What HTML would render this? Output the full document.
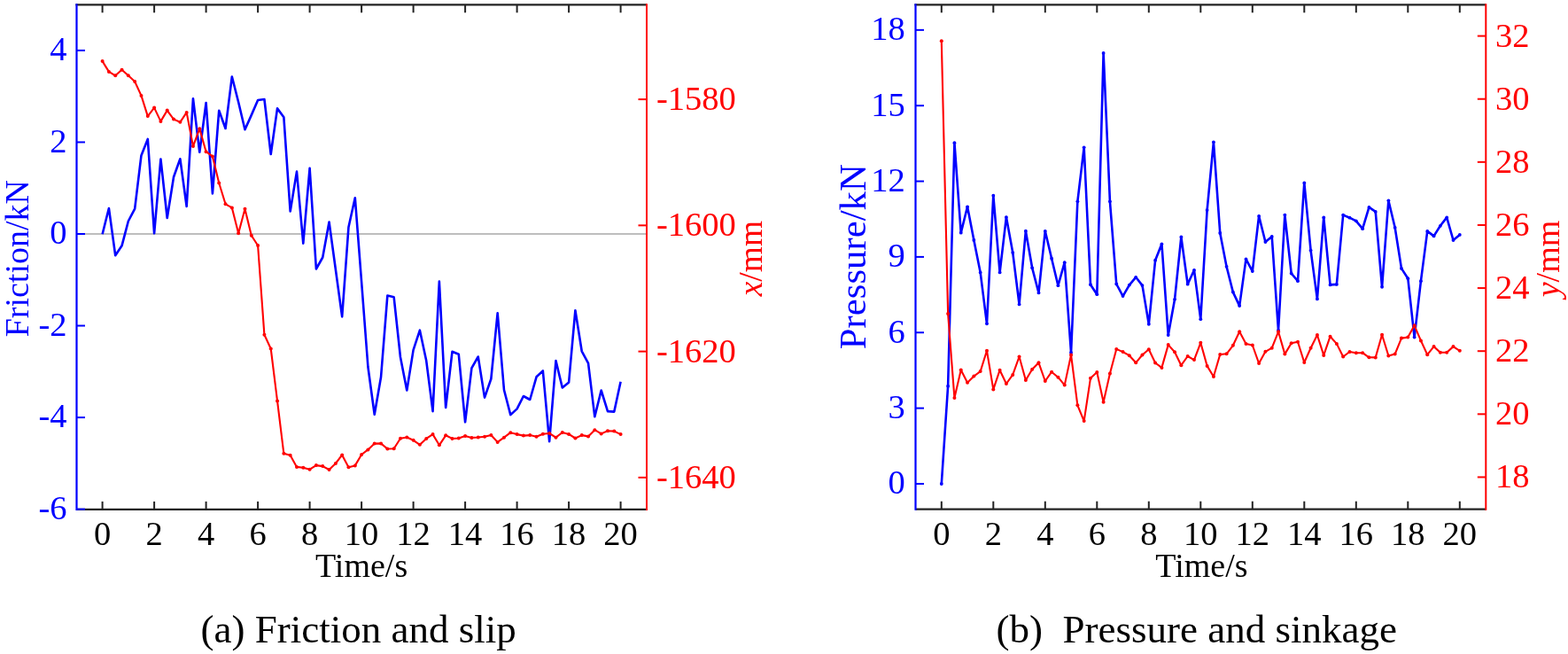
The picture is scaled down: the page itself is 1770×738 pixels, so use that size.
<!DOCTYPE html>
<html><head><meta charset="utf-8"><title>Friction and slip / Pressure and sinkage</title>
<style>html,body{margin:0;padding:0;background:#fff;width:1770px;height:738px;overflow:hidden}svg{display:block;filter:blur(0.35px)}</style>
</head><body>
<svg width="1770" height="738" viewBox="0 0 1770 738" font-family='"Liberation Serif", "Times New Roman", serif'>
<rect width="1770" height="738" fill="#fff"/>
<line x1="86.5" y1="264" x2="730" y2="264" stroke="#a8a8a8" stroke-width="1.3"/>
<polyline points="115.6,264.2 122.91,235 130.22,288.3 137.54,277.3 144.85,249.5 152.16,235.6 159.47,175.4 166.79,156.9 174.1,263.3 181.41,179.5 188.72,246 196.04,199.8 203.35,179.3 210.66,233 217.97,111.2 225.29,171.8 232.6,116 239.91,218.4 247.22,124.8 254.54,145 261.85,86.5 269.16,115.3 276.48,146.2 283.79,129.9 291.1,113 298.41,112 305.73,174 313.04,122.4 320.35,132.2 327.66,238.5 334.98,193.6 342.29,274.6 349.6,189.8 356.91,303.5 364.23,290.5 371.54,250.5 378.85,304 386.16,357.4 393.48,256.2 400.79,223.2 408.1,318 415.41,414 422.73,467.8 430.04,425.5 437.35,333.6 444.66,335.3 451.98,403 459.29,440.5 466.6,394.9 473.91,372.7 481.23,407.1 488.54,464.1 495.85,317.6 503.16,460 510.48,396.8 517.79,399.8 525.1,476.3 532.41,415.3 539.73,402.5 547.04,448.6 554.35,427.5 561.66,353.3 568.98,440 576.29,468.1 583.6,461.4 590.91,447 598.23,451 605.54,425.3 612.85,418.5 620.16,498.2 627.48,407.1 634.79,437.5 642.1,431.5 649.41,350.2 656.73,396.3 664.04,409.8 671.35,470.3 678.66,440.5 685.98,464.1 693.29,464.6 700.6,430.7" fill="none" stroke="#0000ff" stroke-width="2.6" stroke-linejoin="round"/>
<polyline points="115.6,69.1 122.91,80.9 130.22,85.3 137.54,78.8 144.85,85.3 152.16,92 159.47,107.9 166.79,131.1 174.1,121.6 181.41,136.9 188.72,124.6 196.04,134.6 203.35,137.8 210.66,126.9 217.97,165.1 225.29,145.2 232.6,171.2 239.91,176.4 247.22,206.5 254.54,230.3 261.85,234.4 269.16,263.3 276.48,235.8 283.79,265.8 291.1,277 298.41,377.8 305.73,393.5 313.04,452.4 320.35,511.8 327.66,513.8 334.98,526.9 342.29,527.7 349.6,529.7 356.91,525.1 364.23,526.1 371.54,530 378.85,523 386.16,513.4 393.48,527.2 400.79,525.4 408.1,513 415.41,507.4 422.73,500.6 430.04,500.4 437.35,506.5 444.66,506.2 451.98,494.7 459.29,493.5 466.6,496.8 473.91,501.8 481.23,494.9 488.54,490.1 495.85,502.3 503.16,491.3 510.48,494.9 517.79,494.5 525.1,492 532.41,493.9 539.73,493.5 547.04,492.8 554.35,491 561.66,498.9 568.98,493.7 576.29,488.2 583.6,490.1 590.91,491.6 598.23,491.1 605.54,492.8 612.85,489.7 620.16,489 627.48,493.7 634.79,488 642.1,489.9 649.41,494.5 656.73,491.1 664.04,492.4 671.35,485.2 678.66,489.4 685.98,486.3 693.29,486.6 700.6,490.1" fill="none" stroke="#ff0000" stroke-width="2.1" stroke-linejoin="round"/>
<g fill="#ff0000"><circle cx="115.6" cy="69.1" r="2"/><circle cx="122.91" cy="80.9" r="2"/><circle cx="130.22" cy="85.3" r="2"/><circle cx="137.54" cy="78.8" r="2"/><circle cx="144.85" cy="85.3" r="2"/><circle cx="152.16" cy="92" r="2"/><circle cx="159.47" cy="107.9" r="2"/><circle cx="166.79" cy="131.1" r="2"/><circle cx="174.1" cy="121.6" r="2"/><circle cx="181.41" cy="136.9" r="2"/><circle cx="188.72" cy="124.6" r="2"/><circle cx="196.04" cy="134.6" r="2"/><circle cx="203.35" cy="137.8" r="2"/><circle cx="210.66" cy="126.9" r="2"/><circle cx="217.97" cy="165.1" r="2"/><circle cx="225.29" cy="145.2" r="2"/><circle cx="232.6" cy="171.2" r="2"/><circle cx="239.91" cy="176.4" r="2"/><circle cx="247.22" cy="206.5" r="2"/><circle cx="254.54" cy="230.3" r="2"/><circle cx="261.85" cy="234.4" r="2"/><circle cx="269.16" cy="263.3" r="2"/><circle cx="276.48" cy="235.8" r="2"/><circle cx="283.79" cy="265.8" r="2"/><circle cx="291.1" cy="277" r="2"/><circle cx="298.41" cy="377.8" r="2"/><circle cx="305.73" cy="393.5" r="2"/><circle cx="313.04" cy="452.4" r="2"/><circle cx="320.35" cy="511.8" r="2"/><circle cx="327.66" cy="513.8" r="2"/><circle cx="334.98" cy="526.9" r="2"/><circle cx="342.29" cy="527.7" r="2"/><circle cx="349.6" cy="529.7" r="2"/><circle cx="356.91" cy="525.1" r="2"/><circle cx="364.23" cy="526.1" r="2"/><circle cx="371.54" cy="530" r="2"/><circle cx="378.85" cy="523" r="2"/><circle cx="386.16" cy="513.4" r="2"/><circle cx="393.48" cy="527.2" r="2"/><circle cx="400.79" cy="525.4" r="2"/><circle cx="408.1" cy="513" r="2"/><circle cx="415.41" cy="507.4" r="2"/><circle cx="422.73" cy="500.6" r="2"/><circle cx="430.04" cy="500.4" r="2"/><circle cx="437.35" cy="506.5" r="2"/><circle cx="444.66" cy="506.2" r="2"/><circle cx="451.98" cy="494.7" r="2"/><circle cx="459.29" cy="493.5" r="2"/><circle cx="466.6" cy="496.8" r="2"/><circle cx="473.91" cy="501.8" r="2"/><circle cx="481.23" cy="494.9" r="2"/><circle cx="488.54" cy="490.1" r="2"/><circle cx="495.85" cy="502.3" r="2"/><circle cx="503.16" cy="491.3" r="2"/><circle cx="510.48" cy="494.9" r="2"/><circle cx="517.79" cy="494.5" r="2"/><circle cx="525.1" cy="492" r="2"/><circle cx="532.41" cy="493.9" r="2"/><circle cx="539.73" cy="493.5" r="2"/><circle cx="547.04" cy="492.8" r="2"/><circle cx="554.35" cy="491" r="2"/><circle cx="561.66" cy="498.9" r="2"/><circle cx="568.98" cy="493.7" r="2"/><circle cx="576.29" cy="488.2" r="2"/><circle cx="583.6" cy="490.1" r="2"/><circle cx="590.91" cy="491.6" r="2"/><circle cx="598.23" cy="491.1" r="2"/><circle cx="605.54" cy="492.8" r="2"/><circle cx="612.85" cy="489.7" r="2"/><circle cx="620.16" cy="489" r="2"/><circle cx="627.48" cy="493.7" r="2"/><circle cx="634.79" cy="488" r="2"/><circle cx="642.1" cy="489.9" r="2"/><circle cx="649.41" cy="494.5" r="2"/><circle cx="656.73" cy="491.1" r="2"/><circle cx="664.04" cy="492.4" r="2"/><circle cx="671.35" cy="485.2" r="2"/><circle cx="678.66" cy="489.4" r="2"/><circle cx="685.98" cy="486.3" r="2"/><circle cx="693.29" cy="486.6" r="2"/><circle cx="700.6" cy="490.1" r="2"/></g>
<line x1="85.4" y1="5.3" x2="730" y2="5.3" stroke="#222" stroke-width="2.2"/>
<line x1="86.5" y1="574.9" x2="730" y2="574.9" stroke="#222" stroke-width="2.2"/>
<line x1="86.5" y1="4.2" x2="86.5" y2="576" stroke="#0000ff" stroke-width="2.2"/>
<line x1="730" y1="4.2" x2="730" y2="576" stroke="#ff0000" stroke-width="2"/>
<line x1="115.6" y1="5.3" x2="115.6" y2="14.3" stroke="#222" stroke-width="2"/>
<line x1="115.6" y1="574.9" x2="115.6" y2="565.9" stroke="#222" stroke-width="2"/>
<text x="115.6" y="615.2" text-anchor="middle" fill="#000" font-size="38.5">0</text>
<line x1="174.1" y1="5.3" x2="174.1" y2="14.3" stroke="#222" stroke-width="2"/>
<line x1="174.1" y1="574.9" x2="174.1" y2="565.9" stroke="#222" stroke-width="2"/>
<text x="174.1" y="615.2" text-anchor="middle" fill="#000" font-size="38.5">2</text>
<line x1="232.6" y1="5.3" x2="232.6" y2="14.3" stroke="#222" stroke-width="2"/>
<line x1="232.6" y1="574.9" x2="232.6" y2="565.9" stroke="#222" stroke-width="2"/>
<text x="232.6" y="615.2" text-anchor="middle" fill="#000" font-size="38.5">4</text>
<line x1="291.1" y1="5.3" x2="291.1" y2="14.3" stroke="#222" stroke-width="2"/>
<line x1="291.1" y1="574.9" x2="291.1" y2="565.9" stroke="#222" stroke-width="2"/>
<text x="291.1" y="615.2" text-anchor="middle" fill="#000" font-size="38.5">6</text>
<line x1="349.6" y1="5.3" x2="349.6" y2="14.3" stroke="#222" stroke-width="2"/>
<line x1="349.6" y1="574.9" x2="349.6" y2="565.9" stroke="#222" stroke-width="2"/>
<text x="349.6" y="615.2" text-anchor="middle" fill="#000" font-size="38.5">8</text>
<line x1="408.1" y1="5.3" x2="408.1" y2="14.3" stroke="#222" stroke-width="2"/>
<line x1="408.1" y1="574.9" x2="408.1" y2="565.9" stroke="#222" stroke-width="2"/>
<text x="408.1" y="615.2" text-anchor="middle" fill="#000" font-size="38.5">10</text>
<line x1="466.6" y1="5.3" x2="466.6" y2="14.3" stroke="#222" stroke-width="2"/>
<line x1="466.6" y1="574.9" x2="466.6" y2="565.9" stroke="#222" stroke-width="2"/>
<text x="466.6" y="615.2" text-anchor="middle" fill="#000" font-size="38.5">12</text>
<line x1="525.1" y1="5.3" x2="525.1" y2="14.3" stroke="#222" stroke-width="2"/>
<line x1="525.1" y1="574.9" x2="525.1" y2="565.9" stroke="#222" stroke-width="2"/>
<text x="525.1" y="615.2" text-anchor="middle" fill="#000" font-size="38.5">14</text>
<line x1="583.6" y1="5.3" x2="583.6" y2="14.3" stroke="#222" stroke-width="2"/>
<line x1="583.6" y1="574.9" x2="583.6" y2="565.9" stroke="#222" stroke-width="2"/>
<text x="583.6" y="615.2" text-anchor="middle" fill="#000" font-size="38.5">16</text>
<line x1="642.1" y1="5.3" x2="642.1" y2="14.3" stroke="#222" stroke-width="2"/>
<line x1="642.1" y1="574.9" x2="642.1" y2="565.9" stroke="#222" stroke-width="2"/>
<text x="642.1" y="615.2" text-anchor="middle" fill="#000" font-size="38.5">18</text>
<line x1="700.6" y1="5.3" x2="700.6" y2="14.3" stroke="#222" stroke-width="2"/>
<line x1="700.6" y1="574.9" x2="700.6" y2="565.9" stroke="#222" stroke-width="2"/>
<text x="700.6" y="615.2" text-anchor="middle" fill="#000" font-size="38.5">20</text>
<line x1="86.5" y1="56.92" x2="96" y2="56.92" stroke="#0000ff" stroke-width="2"/>
<text x="75.5" y="68.22" text-anchor="end" fill="#0000ff" font-size="38.5">4</text>
<line x1="86.5" y1="160.46" x2="96" y2="160.46" stroke="#0000ff" stroke-width="2"/>
<text x="75.5" y="171.76" text-anchor="end" fill="#0000ff" font-size="38.5">2</text>
<line x1="86.5" y1="264" x2="96" y2="264" stroke="#0000ff" stroke-width="2"/>
<text x="75.5" y="275.3" text-anchor="end" fill="#0000ff" font-size="38.5">0</text>
<line x1="86.5" y1="367.54" x2="96" y2="367.54" stroke="#0000ff" stroke-width="2"/>
<text x="75.5" y="378.84" text-anchor="end" fill="#0000ff" font-size="38.5">-2</text>
<line x1="86.5" y1="471.08" x2="96" y2="471.08" stroke="#0000ff" stroke-width="2"/>
<text x="75.5" y="482.38" text-anchor="end" fill="#0000ff" font-size="38.5">-4</text>
<line x1="86.5" y1="574.62" x2="96" y2="574.62" stroke="#0000ff" stroke-width="2"/>
<text x="75.5" y="585.92" text-anchor="end" fill="#0000ff" font-size="38.5">-6</text>
<line x1="730" y1="112.1" x2="720.5" y2="112.1" stroke="#ff0000" stroke-width="2"/>
<text x="741" y="124.1" text-anchor="start" fill="#ff0000" font-size="38.5">-1580</text>
<line x1="730" y1="254.35" x2="720.5" y2="254.35" stroke="#ff0000" stroke-width="2"/>
<text x="741" y="266.35" text-anchor="start" fill="#ff0000" font-size="38.5">-1600</text>
<line x1="730" y1="396.6" x2="720.5" y2="396.6" stroke="#ff0000" stroke-width="2"/>
<text x="741" y="408.6" text-anchor="start" fill="#ff0000" font-size="38.5">-1620</text>
<line x1="730" y1="538.85" x2="720.5" y2="538.85" stroke="#ff0000" stroke-width="2"/>
<text x="741" y="550.85" text-anchor="start" fill="#ff0000" font-size="38.5">-1640</text>
<polyline points="1062.8,546 1070.11,435.7 1077.42,161.2 1084.74,262.7 1092.05,233.3 1099.36,270.9 1106.67,307.4 1113.99,365.3 1121.3,220.7 1128.61,307.4 1135.92,245.1 1143.24,285.1 1150.55,343.4 1157.86,260.7 1165.17,302.3 1172.49,330.4 1179.8,260.8 1187.11,291.7 1194.42,322.2 1201.74,296.2 1209.05,398 1216.36,227.3 1223.67,166.3 1230.99,321.2 1238.3,332.2 1245.61,59.9 1252.92,227.3 1260.24,320.5 1267.55,334.1 1274.86,321.6 1282.17,312.8 1289.49,322.1 1296.8,365.8 1304.11,293.7 1311.42,275.3 1318.74,378.1 1326.05,337.8 1333.36,267.5 1340.67,320.7 1347.99,304.8 1355.3,360.2 1362.61,237.1 1369.92,160.3 1377.24,263 1384.55,300.8 1391.86,329.6 1399.17,345.1 1406.49,292.4 1413.8,306.1 1421.11,243.8 1428.42,273 1435.74,266.9 1443.05,372.8 1450.36,242.6 1457.67,308.5 1464.99,317.2 1472.3,206.4 1479.61,282.6 1486.92,337.4 1494.24,245.4 1501.55,321.4 1508.86,320.9 1516.17,242.6 1523.49,245.7 1530.8,249.3 1538.11,258.2 1545.42,233.9 1552.74,238.9 1560.05,323.8 1567.36,226.3 1574.67,256.8 1581.99,302.9 1589.3,314.2 1596.61,380.6 1603.92,317.2 1611.24,260.9 1618.55,266.4 1625.86,254.8 1633.17,245.4 1640.49,271 1647.8,264.9" fill="none" stroke="#0000ff" stroke-width="2.6" stroke-linejoin="round"/>
<g fill="#0000ff"><circle cx="1062.8" cy="546" r="1.9"/><circle cx="1070.11" cy="435.7" r="1.9"/><circle cx="1077.42" cy="161.2" r="1.9"/><circle cx="1084.74" cy="262.7" r="1.9"/><circle cx="1092.05" cy="233.3" r="1.9"/><circle cx="1099.36" cy="270.9" r="1.9"/><circle cx="1106.67" cy="307.4" r="1.9"/><circle cx="1113.99" cy="365.3" r="1.9"/><circle cx="1121.3" cy="220.7" r="1.9"/><circle cx="1128.61" cy="307.4" r="1.9"/><circle cx="1135.92" cy="245.1" r="1.9"/><circle cx="1143.24" cy="285.1" r="1.9"/><circle cx="1150.55" cy="343.4" r="1.9"/><circle cx="1157.86" cy="260.7" r="1.9"/><circle cx="1165.17" cy="302.3" r="1.9"/><circle cx="1172.49" cy="330.4" r="1.9"/><circle cx="1179.8" cy="260.8" r="1.9"/><circle cx="1187.11" cy="291.7" r="1.9"/><circle cx="1194.42" cy="322.2" r="1.9"/><circle cx="1201.74" cy="296.2" r="1.9"/><circle cx="1209.05" cy="398" r="1.9"/><circle cx="1216.36" cy="227.3" r="1.9"/><circle cx="1223.67" cy="166.3" r="1.9"/><circle cx="1230.99" cy="321.2" r="1.9"/><circle cx="1238.3" cy="332.2" r="1.9"/><circle cx="1245.61" cy="59.9" r="1.9"/><circle cx="1252.92" cy="227.3" r="1.9"/><circle cx="1260.24" cy="320.5" r="1.9"/><circle cx="1267.55" cy="334.1" r="1.9"/><circle cx="1274.86" cy="321.6" r="1.9"/><circle cx="1282.17" cy="312.8" r="1.9"/><circle cx="1289.49" cy="322.1" r="1.9"/><circle cx="1296.8" cy="365.8" r="1.9"/><circle cx="1304.11" cy="293.7" r="1.9"/><circle cx="1311.42" cy="275.3" r="1.9"/><circle cx="1318.74" cy="378.1" r="1.9"/><circle cx="1326.05" cy="337.8" r="1.9"/><circle cx="1333.36" cy="267.5" r="1.9"/><circle cx="1340.67" cy="320.7" r="1.9"/><circle cx="1347.99" cy="304.8" r="1.9"/><circle cx="1355.3" cy="360.2" r="1.9"/><circle cx="1362.61" cy="237.1" r="1.9"/><circle cx="1369.92" cy="160.3" r="1.9"/><circle cx="1377.24" cy="263" r="1.9"/><circle cx="1384.55" cy="300.8" r="1.9"/><circle cx="1391.86" cy="329.6" r="1.9"/><circle cx="1399.17" cy="345.1" r="1.9"/><circle cx="1406.49" cy="292.4" r="1.9"/><circle cx="1413.8" cy="306.1" r="1.9"/><circle cx="1421.11" cy="243.8" r="1.9"/><circle cx="1428.42" cy="273" r="1.9"/><circle cx="1435.74" cy="266.9" r="1.9"/><circle cx="1443.05" cy="372.8" r="1.9"/><circle cx="1450.36" cy="242.6" r="1.9"/><circle cx="1457.67" cy="308.5" r="1.9"/><circle cx="1464.99" cy="317.2" r="1.9"/><circle cx="1472.3" cy="206.4" r="1.9"/><circle cx="1479.61" cy="282.6" r="1.9"/><circle cx="1486.92" cy="337.4" r="1.9"/><circle cx="1494.24" cy="245.4" r="1.9"/><circle cx="1501.55" cy="321.4" r="1.9"/><circle cx="1508.86" cy="320.9" r="1.9"/><circle cx="1516.17" cy="242.6" r="1.9"/><circle cx="1523.49" cy="245.7" r="1.9"/><circle cx="1530.8" cy="249.3" r="1.9"/><circle cx="1538.11" cy="258.2" r="1.9"/><circle cx="1545.42" cy="233.9" r="1.9"/><circle cx="1552.74" cy="238.9" r="1.9"/><circle cx="1560.05" cy="323.8" r="1.9"/><circle cx="1567.36" cy="226.3" r="1.9"/><circle cx="1574.67" cy="256.8" r="1.9"/><circle cx="1581.99" cy="302.9" r="1.9"/><circle cx="1589.3" cy="314.2" r="1.9"/><circle cx="1596.61" cy="380.6" r="1.9"/><circle cx="1603.92" cy="317.2" r="1.9"/><circle cx="1611.24" cy="260.9" r="1.9"/><circle cx="1618.55" cy="266.4" r="1.9"/><circle cx="1625.86" cy="254.8" r="1.9"/><circle cx="1633.17" cy="245.4" r="1.9"/><circle cx="1640.49" cy="271" r="1.9"/><circle cx="1647.8" cy="264.9" r="1.9"/></g>
<polyline points="1062.8,46.2 1070.11,354 1077.42,448.9 1084.74,417.5 1092.05,431.7 1099.36,424.5 1106.67,419.1 1113.99,395.8 1121.3,439.4 1128.61,417.7 1135.92,433 1143.24,422.9 1150.55,402.5 1157.86,429 1165.17,416.8 1172.49,409.3 1179.8,430 1187.11,419.7 1194.42,425.7 1201.74,434.6 1209.05,400.5 1216.36,457.3 1223.67,475.1 1230.99,426.8 1238.3,420 1245.61,453.7 1252.92,421.5 1260.24,393.9 1267.55,397.1 1274.86,401.2 1282.17,409.3 1289.49,400.5 1296.8,394.2 1304.11,409.5 1311.42,414.9 1318.74,389.1 1326.05,397.3 1333.36,412.2 1340.67,402 1347.99,406.1 1355.3,386.8 1362.61,412.9 1369.92,425 1377.24,400 1384.55,399.3 1391.86,389.8 1399.17,374.2 1406.49,388 1413.8,389.5 1421.11,410 1428.42,396.8 1435.74,392.7 1443.05,374.3 1450.36,399.6 1457.67,387.3 1464.99,385.8 1472.3,409 1479.61,392.7 1486.92,378 1494.24,400.9 1501.55,379.7 1508.86,387.9 1516.17,402.5 1523.49,397 1530.8,398.2 1538.11,398.2 1545.42,403.3 1552.74,403.4 1560.05,377.8 1567.36,401.5 1574.67,399.6 1581.99,381.6 1589.3,380.6 1596.61,367.3 1603.92,384.4 1611.24,400.2 1618.55,391.1 1625.86,397.7 1633.17,397.7 1640.49,391.1 1647.8,395.8" fill="none" stroke="#ff0000" stroke-width="2.1" stroke-linejoin="round"/>
<g fill="#ff0000"><circle cx="1062.8" cy="46.2" r="2"/><circle cx="1070.11" cy="354" r="2"/><circle cx="1077.42" cy="448.9" r="2"/><circle cx="1084.74" cy="417.5" r="2"/><circle cx="1092.05" cy="431.7" r="2"/><circle cx="1099.36" cy="424.5" r="2"/><circle cx="1106.67" cy="419.1" r="2"/><circle cx="1113.99" cy="395.8" r="2"/><circle cx="1121.3" cy="439.4" r="2"/><circle cx="1128.61" cy="417.7" r="2"/><circle cx="1135.92" cy="433" r="2"/><circle cx="1143.24" cy="422.9" r="2"/><circle cx="1150.55" cy="402.5" r="2"/><circle cx="1157.86" cy="429" r="2"/><circle cx="1165.17" cy="416.8" r="2"/><circle cx="1172.49" cy="409.3" r="2"/><circle cx="1179.8" cy="430" r="2"/><circle cx="1187.11" cy="419.7" r="2"/><circle cx="1194.42" cy="425.7" r="2"/><circle cx="1201.74" cy="434.6" r="2"/><circle cx="1209.05" cy="400.5" r="2"/><circle cx="1216.36" cy="457.3" r="2"/><circle cx="1223.67" cy="475.1" r="2"/><circle cx="1230.99" cy="426.8" r="2"/><circle cx="1238.3" cy="420" r="2"/><circle cx="1245.61" cy="453.7" r="2"/><circle cx="1252.92" cy="421.5" r="2"/><circle cx="1260.24" cy="393.9" r="2"/><circle cx="1267.55" cy="397.1" r="2"/><circle cx="1274.86" cy="401.2" r="2"/><circle cx="1282.17" cy="409.3" r="2"/><circle cx="1289.49" cy="400.5" r="2"/><circle cx="1296.8" cy="394.2" r="2"/><circle cx="1304.11" cy="409.5" r="2"/><circle cx="1311.42" cy="414.9" r="2"/><circle cx="1318.74" cy="389.1" r="2"/><circle cx="1326.05" cy="397.3" r="2"/><circle cx="1333.36" cy="412.2" r="2"/><circle cx="1340.67" cy="402" r="2"/><circle cx="1347.99" cy="406.1" r="2"/><circle cx="1355.3" cy="386.8" r="2"/><circle cx="1362.61" cy="412.9" r="2"/><circle cx="1369.92" cy="425" r="2"/><circle cx="1377.24" cy="400" r="2"/><circle cx="1384.55" cy="399.3" r="2"/><circle cx="1391.86" cy="389.8" r="2"/><circle cx="1399.17" cy="374.2" r="2"/><circle cx="1406.49" cy="388" r="2"/><circle cx="1413.8" cy="389.5" r="2"/><circle cx="1421.11" cy="410" r="2"/><circle cx="1428.42" cy="396.8" r="2"/><circle cx="1435.74" cy="392.7" r="2"/><circle cx="1443.05" cy="374.3" r="2"/><circle cx="1450.36" cy="399.6" r="2"/><circle cx="1457.67" cy="387.3" r="2"/><circle cx="1464.99" cy="385.8" r="2"/><circle cx="1472.3" cy="409" r="2"/><circle cx="1479.61" cy="392.7" r="2"/><circle cx="1486.92" cy="378" r="2"/><circle cx="1494.24" cy="400.9" r="2"/><circle cx="1501.55" cy="379.7" r="2"/><circle cx="1508.86" cy="387.9" r="2"/><circle cx="1516.17" cy="402.5" r="2"/><circle cx="1523.49" cy="397" r="2"/><circle cx="1530.8" cy="398.2" r="2"/><circle cx="1538.11" cy="398.2" r="2"/><circle cx="1545.42" cy="403.3" r="2"/><circle cx="1552.74" cy="403.4" r="2"/><circle cx="1560.05" cy="377.8" r="2"/><circle cx="1567.36" cy="401.5" r="2"/><circle cx="1574.67" cy="399.6" r="2"/><circle cx="1581.99" cy="381.6" r="2"/><circle cx="1589.3" cy="380.6" r="2"/><circle cx="1596.61" cy="367.3" r="2"/><circle cx="1603.92" cy="384.4" r="2"/><circle cx="1611.24" cy="400.2" r="2"/><circle cx="1618.55" cy="391.1" r="2"/><circle cx="1625.86" cy="397.7" r="2"/><circle cx="1633.17" cy="397.7" r="2"/><circle cx="1640.49" cy="391.1" r="2"/><circle cx="1647.8" cy="395.8" r="2"/></g>
<line x1="1032.4" y1="5.3" x2="1677.3" y2="5.3" stroke="#222" stroke-width="2.2"/>
<line x1="1033.5" y1="574.7" x2="1677.3" y2="574.7" stroke="#222" stroke-width="2.2"/>
<line x1="1033.5" y1="4.2" x2="1033.5" y2="575.8" stroke="#0000ff" stroke-width="2.2"/>
<line x1="1677.3" y1="4.2" x2="1677.3" y2="575.8" stroke="#ff0000" stroke-width="2"/>
<line x1="1062.8" y1="5.3" x2="1062.8" y2="14.3" stroke="#222" stroke-width="2"/>
<line x1="1062.8" y1="574.7" x2="1062.8" y2="565.7" stroke="#222" stroke-width="2"/>
<text x="1062.8" y="615.2" text-anchor="middle" fill="#000" font-size="38.5">0</text>
<line x1="1121.3" y1="5.3" x2="1121.3" y2="14.3" stroke="#222" stroke-width="2"/>
<line x1="1121.3" y1="574.7" x2="1121.3" y2="565.7" stroke="#222" stroke-width="2"/>
<text x="1121.3" y="615.2" text-anchor="middle" fill="#000" font-size="38.5">2</text>
<line x1="1179.8" y1="5.3" x2="1179.8" y2="14.3" stroke="#222" stroke-width="2"/>
<line x1="1179.8" y1="574.7" x2="1179.8" y2="565.7" stroke="#222" stroke-width="2"/>
<text x="1179.8" y="615.2" text-anchor="middle" fill="#000" font-size="38.5">4</text>
<line x1="1238.3" y1="5.3" x2="1238.3" y2="14.3" stroke="#222" stroke-width="2"/>
<line x1="1238.3" y1="574.7" x2="1238.3" y2="565.7" stroke="#222" stroke-width="2"/>
<text x="1238.3" y="615.2" text-anchor="middle" fill="#000" font-size="38.5">6</text>
<line x1="1296.8" y1="5.3" x2="1296.8" y2="14.3" stroke="#222" stroke-width="2"/>
<line x1="1296.8" y1="574.7" x2="1296.8" y2="565.7" stroke="#222" stroke-width="2"/>
<text x="1296.8" y="615.2" text-anchor="middle" fill="#000" font-size="38.5">8</text>
<line x1="1355.3" y1="5.3" x2="1355.3" y2="14.3" stroke="#222" stroke-width="2"/>
<line x1="1355.3" y1="574.7" x2="1355.3" y2="565.7" stroke="#222" stroke-width="2"/>
<text x="1355.3" y="615.2" text-anchor="middle" fill="#000" font-size="38.5">10</text>
<line x1="1413.8" y1="5.3" x2="1413.8" y2="14.3" stroke="#222" stroke-width="2"/>
<line x1="1413.8" y1="574.7" x2="1413.8" y2="565.7" stroke="#222" stroke-width="2"/>
<text x="1413.8" y="615.2" text-anchor="middle" fill="#000" font-size="38.5">12</text>
<line x1="1472.3" y1="5.3" x2="1472.3" y2="14.3" stroke="#222" stroke-width="2"/>
<line x1="1472.3" y1="574.7" x2="1472.3" y2="565.7" stroke="#222" stroke-width="2"/>
<text x="1472.3" y="615.2" text-anchor="middle" fill="#000" font-size="38.5">14</text>
<line x1="1530.8" y1="5.3" x2="1530.8" y2="14.3" stroke="#222" stroke-width="2"/>
<line x1="1530.8" y1="574.7" x2="1530.8" y2="565.7" stroke="#222" stroke-width="2"/>
<text x="1530.8" y="615.2" text-anchor="middle" fill="#000" font-size="38.5">16</text>
<line x1="1589.3" y1="5.3" x2="1589.3" y2="14.3" stroke="#222" stroke-width="2"/>
<line x1="1589.3" y1="574.7" x2="1589.3" y2="565.7" stroke="#222" stroke-width="2"/>
<text x="1589.3" y="615.2" text-anchor="middle" fill="#000" font-size="38.5">18</text>
<line x1="1647.8" y1="5.3" x2="1647.8" y2="14.3" stroke="#222" stroke-width="2"/>
<line x1="1647.8" y1="574.7" x2="1647.8" y2="565.7" stroke="#222" stroke-width="2"/>
<text x="1647.8" y="615.2" text-anchor="middle" fill="#000" font-size="38.5">20</text>
<line x1="1033.5" y1="545.95" x2="1043" y2="545.95" stroke="#0000ff" stroke-width="2"/>
<text x="1021.8" y="557.25" text-anchor="end" fill="#0000ff" font-size="38.5">0</text>
<line x1="1033.5" y1="460.6" x2="1043" y2="460.6" stroke="#0000ff" stroke-width="2"/>
<text x="1021.8" y="471.9" text-anchor="end" fill="#0000ff" font-size="38.5">3</text>
<line x1="1033.5" y1="375.25" x2="1043" y2="375.25" stroke="#0000ff" stroke-width="2"/>
<text x="1021.8" y="386.55" text-anchor="end" fill="#0000ff" font-size="38.5">6</text>
<line x1="1033.5" y1="289.9" x2="1043" y2="289.9" stroke="#0000ff" stroke-width="2"/>
<text x="1021.8" y="301.2" text-anchor="end" fill="#0000ff" font-size="38.5">9</text>
<line x1="1033.5" y1="204.55" x2="1043" y2="204.55" stroke="#0000ff" stroke-width="2"/>
<text x="1021.8" y="215.85" text-anchor="end" fill="#0000ff" font-size="38.5">12</text>
<line x1="1033.5" y1="119.2" x2="1043" y2="119.2" stroke="#0000ff" stroke-width="2"/>
<text x="1021.8" y="130.5" text-anchor="end" fill="#0000ff" font-size="38.5">15</text>
<line x1="1033.5" y1="33.85" x2="1043" y2="33.85" stroke="#0000ff" stroke-width="2"/>
<text x="1021.8" y="45.15" text-anchor="end" fill="#0000ff" font-size="38.5">18</text>
<line x1="1677.3" y1="538.44" x2="1667.8" y2="538.44" stroke="#ff0000" stroke-width="2"/>
<text x="1688" y="550.44" text-anchor="start" fill="#ff0000" font-size="38.5">18</text>
<line x1="1677.3" y1="467.32" x2="1667.8" y2="467.32" stroke="#ff0000" stroke-width="2"/>
<text x="1688" y="479.32" text-anchor="start" fill="#ff0000" font-size="38.5">20</text>
<line x1="1677.3" y1="396.2" x2="1667.8" y2="396.2" stroke="#ff0000" stroke-width="2"/>
<text x="1688" y="408.2" text-anchor="start" fill="#ff0000" font-size="38.5">22</text>
<line x1="1677.3" y1="325.08" x2="1667.8" y2="325.08" stroke="#ff0000" stroke-width="2"/>
<text x="1688" y="337.08" text-anchor="start" fill="#ff0000" font-size="38.5">24</text>
<line x1="1677.3" y1="253.96" x2="1667.8" y2="253.96" stroke="#ff0000" stroke-width="2"/>
<text x="1688" y="265.96" text-anchor="start" fill="#ff0000" font-size="38.5">26</text>
<line x1="1677.3" y1="182.84" x2="1667.8" y2="182.84" stroke="#ff0000" stroke-width="2"/>
<text x="1688" y="194.84" text-anchor="start" fill="#ff0000" font-size="38.5">28</text>
<line x1="1677.3" y1="111.72" x2="1667.8" y2="111.72" stroke="#ff0000" stroke-width="2"/>
<text x="1688" y="123.72" text-anchor="start" fill="#ff0000" font-size="38.5">30</text>
<line x1="1677.3" y1="40.6" x2="1667.8" y2="40.6" stroke="#ff0000" stroke-width="2"/>
<text x="1688" y="52.6" text-anchor="start" fill="#ff0000" font-size="38.5">32</text>
<text x="408.1" y="651" text-anchor="middle" fill="#000" font-size="38">Time/s</text>
<text x="1356.4" y="651" text-anchor="middle" fill="#000" font-size="38">Time/s</text>
<text transform="translate(32,291.7) rotate(-90)" text-anchor="middle" fill="#0000ff" font-size="38">Friction/kN</text>
<text transform="translate(977.3,289.7) rotate(-90)" text-anchor="middle" fill="#0000ff" font-size="41.5" textLength="209" lengthAdjust="spacingAndGlyphs">Pressure/kN</text>
<text transform="translate(859.7,291.6) rotate(-90)" text-anchor="middle" fill="#ff0000" font-size="37.5"><tspan font-style="italic">x</tspan>/mm</text>
<text transform="translate(1760.3,292) rotate(-90)" text-anchor="middle" fill="#ff0000" font-size="38"><tspan font-style="italic">y</tspan>/mm</text>
<text x="404.6" y="725" text-anchor="middle" fill="#000" font-size="45">(a) Friction and slip</text>
<text x="1350.7" y="725" text-anchor="middle" fill="#000" font-size="45" xml:space="preserve" style="white-space:pre">(b)  Pressure and sinkage</text>
</svg>
</body></html>
